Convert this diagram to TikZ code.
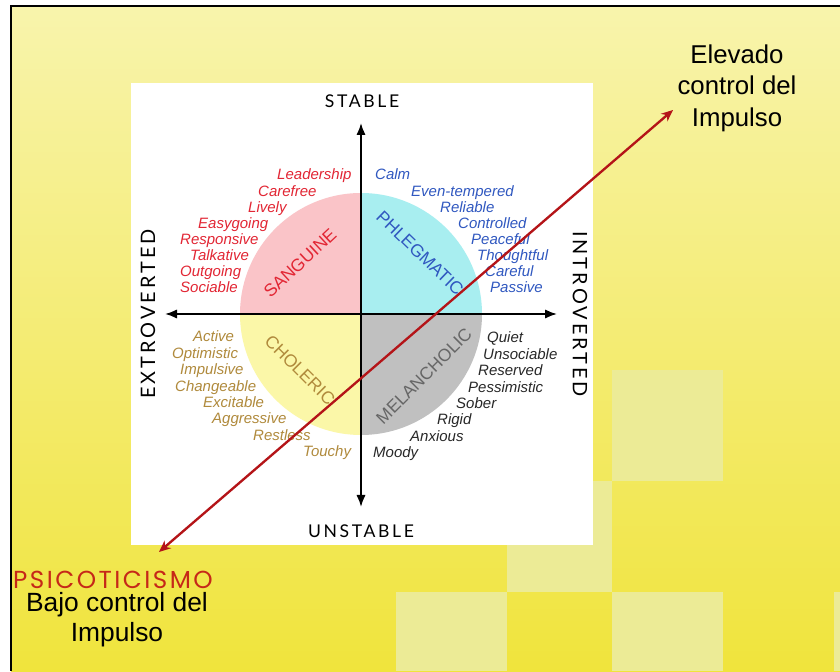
\documentclass[tikz,border=0pt]{standalone}
\usepackage{xcolor}
\usepackage{fontspec}
\setmainfont{Liberation Sans}
\newfontfamily\axisfont[LetterSpace=15]{Lato}
\newfontfamily\psicofont[LetterSpace=10]{Poppins}
\usepackage{tikz}
\usetikzlibrary{arrows.meta}

\definecolor{bgtop}{RGB}{248,244,172}
\definecolor{bgbottom}{RGB}{240,228,60}
\definecolor{bgpale}{RGB}{236,235,150}
\definecolor{sangfill}{RGB}{250,196,200}
\definecolor{phlegfill}{RGB}{168,238,240}
\definecolor{cholfill}{RGB}{251,247,168}
\definecolor{melanfill}{RGB}{192,192,192}
\definecolor{sangtext}{RGB}{226,38,52}
\definecolor{phlegtext}{RGB}{48,88,192}
\definecolor{choltext}{RGB}{176,138,60}
\definecolor{melantext}{RGB}{40,40,40}
\definecolor{impred}{RGB}{180,20,24}
\definecolor{psicored}{RGB}{198,40,24}

\begin{document}
\begin{tikzpicture}[x=0.03cm, y=0.03cm,
	word/.style={anchor=base west, inner sep=0pt, font=\fontsize{12.8}{15}\selectfont\itshape},
	temper/.style={inner sep=0pt, font=\fontsize{15}{18}\selectfont},
	axislabel/.style={inner sep=0pt, font=\axisfont\fontsize{15}{18}\selectfont},
	sidelabel/.style={axislabel, font=\axisfont\fontsize{17}{20}\selectfont},
	axisarrow/.style={line width=1.6pt, {Latex[length=3.6mm,width=2.8mm]}-{Latex[length=3.6mm,width=2.8mm]}},
	impulse/.style={align=center, inner sep=0pt, font=\fontsize{22}{27}\selectfont}]

		\useasboundingbox (0,0) rectangle (840,671);
		\fill[white] (0,0) rectangle (840,671);
		\shade[top color=bgtop, bottom color=bgbottom] (11,0) rectangle (840,665);
		\fill[bgpale] (612,190) rectangle (723,301);
		\fill[bgpale] (507,79) rectangle (612,190);
		\fill[bgpale] (396,0) rectangle (507,79);
		\fill[bgpale] (612,0) rectangle (723,79);
		\fill[bgpale] (834,0) rectangle (840,79);
		\draw[line width=1.5pt] (11,0) -- (11,665) -- (840,665);

		\fill[white] (131,126) rectangle (593,588);

		\coordinate (O) at (361,357);
		\fill[sangfill] (O) -- ++(0,121) arc[start angle=90, end angle=180, radius=121] -- cycle;
		\fill[phlegfill] (O) -- ++(121,0) arc[start angle=0, end angle=90, radius=121] -- cycle;
		\fill[cholfill] (O) -- ++(-121,0) arc[start angle=180, end angle=270, radius=121] -- cycle;
		\fill[melanfill] (O) -- ++(0,-121) arc[start angle=270, end angle=360, radius=121] -- cycle;

		\foreach \w/\x [count=\i] in {Leadership/277, Carefree/258, Lively/248, Easygoing/198, Responsive/180, Talkative/190, Outgoing/180, Sociable/180}
			\node[word, text=sangtext] (sang\i) at (\x, {491-(\i-1)*16.1}) {\w};
		\foreach \w/\x [count=\i] in {Calm/375, Even-tempered/411, Reliable/440, Controlled/458, Peaceful/471, Thoughtful/477, Careful/485, Passive/490}
			\node[word, text=phlegtext] (phleg\i) at (\x, {491-(\i-1)*16.1}) {\w};
		\foreach \w/\x [count=\i] in {Active/193, Optimistic/172, Impulsive/180, Changeable/175, Excitable/203, Aggressive/212, Restless/253, Touchy/303}
			\node[word, text=choltext] (chol\i) at (\x, {329-(\i-1)*16.4}) {\w};
		\foreach \w/\x [count=\i] in {Quiet/487, Unsociable/483, Reserved/478, Pessimistic/468, Sober/456, Rigid/437, Anxious/410, Moody/373}
			\node[word, text=melantext] (melan\i) at (\x, {328-(\i-1)*16.4}) {\w};

		\node[temper, text=sangtext, rotate=43] (sanguine) at (300,408) {SANGUINE};
		\node[temper, text=phlegtext, rotate=-44] (phlegmatic) at (420,418) {PHLEGMATIC};
		\node[temper, text=choltext, rotate=-45] (choleric) at (300,301) {CHOLERIC};
		\node[temper, text=black!60, rotate=45] (melancholic) at (424,295) {MELANCHOLIC};

		\coordinate (stabletip) at (361,548);
		\coordinate (unstabletip) at (361,164);
		\coordinate (extrotip) at (165,357);
		\coordinate (introtip) at (557,357);
		\draw[axisarrow] (unstabletip) -- (stabletip);
		\draw[axisarrow] (extrotip) -- (introtip);

		\node[axislabel] (stable) at (362,570) {STABLE};
		\node[axislabel] (unstable) at (361,140) {UNSTABLE};
		\node[sidelabel, rotate=90] (extro) at (148,357) {EXTROVERTED};
		\node[sidelabel, rotate=-90] (intro) at (580,357) {INTROVERTED};

		\node[impulse] (high) at (737,583) {Elevado\\control del\\Impulso};
		\node[anchor=west, inner sep=0pt, text=psicored, font=\psicofont\fontsize{21}{24}\selectfont] (psico) at (13,91) {PSICOTICISMO};
		\node[impulse, font=\fontsize{22.5}{25.6}\selectfont] (low) at (117,51) {Bajo control del\\Impulso};

		\coordinate (lowtip) at (159,119);
		\coordinate (hightip) at (673,561);
		\draw[line width=2pt, impred, {Stealth[length=3.5mm,width=3mm]}-{Stealth[length=3.5mm,width=3mm]}] (lowtip) -- (hightip);

\end{tikzpicture}
\end{document}
